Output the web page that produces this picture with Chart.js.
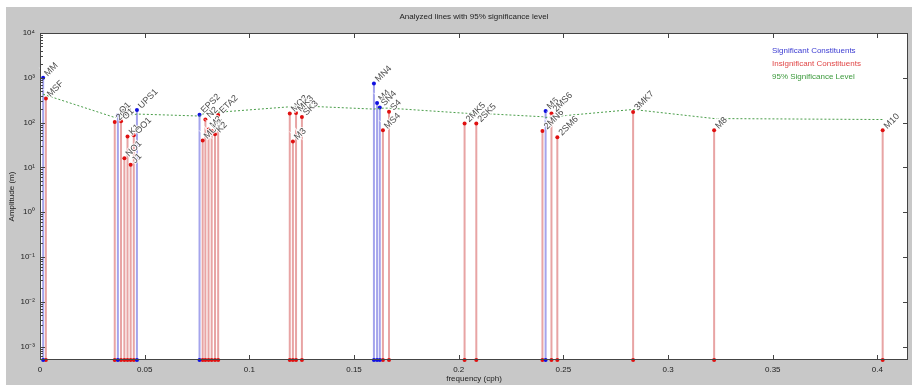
<!DOCTYPE html>
<html>
<head>
<meta charset="utf-8">
<script src="https://cdn.jsdelivr.net/npm/chart.js@4/dist/chart.umd.min.js"></script>
<style>
  html, body { margin: 0; padding: 0; background: #fff; }
  #wrap { width: 912px; height: 385px; }
</style>
</head>
<body>
<div id="wrap"><canvas id="lines-graph" width="912" height="385"></canvas></div>
<script>
// tidal constituents
var constNames = ['MM', 'MSF', '2Q1', 'Q1', 'O1', 'NO1', 'K1', 'J1', 'OO1', 'UPS1',
  'EPS2', 'MU2', 'N2', 'M2', 'L2', 'K2', 'ETA2', 'MO3', 'M3', 'MK3', 'SK3',
  'MN4', 'M4', 'SN4', 'MS4', 'S4', '2MK5', '2SK5', '2MN6', 'M6', '2MS6', '2SM6',
  '3MK7', 'M8', 'M10'];
var constFreqs = [0.0015, 0.0028, 0.0357, 0.0372, 0.0387, 0.0403, 0.0418, 0.0433, 0.0448, 0.0463,
  0.0762, 0.0777, 0.0790, 0.0805, 0.0820, 0.0836, 0.0851, 0.1193, 0.1208, 0.1223, 0.1251,
  0.1595, 0.1610, 0.1623, 0.1638, 0.1667, 0.2028, 0.2084, 0.2400, 0.2415, 0.2443, 0.2471,
  0.2833, 0.3220, 0.4025];
var constAmps = [1000, 345, 103, 146, 107, 16, 49, 11.5, 52, 190,
  150, 40, 117, 70, 65, 55, 148, 160, 38, 163, 133,
  748, 275, 217, 67, 174, 95, 95, 65, 182, 160, 47,
  173, 67, 67];
var constSignificant = [1, 0, 0, 1, 0, 0, 0, 0, 0, 1,
  1, 0, 0, 0, 0, 0, 0, 0, 0, 0, 0,
  1, 1, 1, 0, 0, 0, 0, 0, 1, 0, 0,
  0, 0, 0];
var sigLevel = [430, 410, 130, 135, 140, 150, 155, 150, 150, 155,
  140, 155, 160, 160, 165, 165, 170, 225, 230, 235, 235,
  200, 205, 205, 210, 210, 162, 162, 135, 130, 135, 138,
  196, 123, 117];

var xTicks = [0, 0.05, 0.1, 0.15, 0.2, 0.25, 0.3, 0.35, 0.4];
var yDecades = [-3, -2, -1, 0, 1, 2, 3, 4];
var legendLabels = ['Significant Constituents', 'Insignificant Constituents', '95% Significance Level'];

var yMin = 5e-4;
var yMax = 1e4;
var xMax = 0.4146;
var FONT = '"Liberation Sans", Arial, sans-serif';

function stemData(flag) {
  var pts = [];
  for (var i = 0; i < constFreqs.length; i++) {
    if (constSignificant[i] === flag) {
      pts.push({ x: constFreqs[i], y: yMin });
      pts.push({ x: constFreqs[i], y: constAmps[i] });
      pts.push({ x: constFreqs[i], y: null }); // break between stems
    }
  }
  return pts;
}

function supNumber(n) {
  var map = { '-': '\u207B', '0': '\u2070', '1': '\u00B9', '2': '\u00B2', '3': '\u00B3',
    '4': '\u2074', '5': '\u2075', '6': '\u2076', '7': '\u2077', '8': '\u2078', '9': '\u2079' };
  return String(n).split('').map(function (c) { return map[c]; }).join('');
}

var bgPlugin = {
  id: 'bg',
  beforeDraw: function (chart) {
    var ctx = chart.ctx, a = chart.chartArea;
    ctx.save();
    ctx.fillStyle = '#ffffff';
    ctx.fillRect(0, 0, chart.width, chart.height);
    ctx.fillStyle = '#c8c8c8';
    ctx.fillRect(6, 7, chart.width - 6, chart.height - 7);
    ctx.fillStyle = '#ffffff';
    ctx.fillRect(a.left, a.top, a.right - a.left, a.bottom - a.top);
    ctx.restore();
  }
};

// rotated constituent names on top of each stem
var namePlugin = {
  id: 'names',
  afterDatasetsDraw: function (chart) {
    var ctx = chart.ctx;
    var xs = chart.scales.x, ys = chart.scales.y;
    ctx.save();
    ctx.font = '9px ' + FONT;
    ctx.textBaseline = 'middle';
    ctx.textAlign = 'left';
    for (var i = 0; i < constNames.length; i++) {
      var px = xs.getPixelForValue(constFreqs[i]);
      var py = ys.getPixelForValue(constAmps[i]);
      ctx.save();
      ctx.translate(px + 1.5, py - 1.5);
      ctx.rotate(-Math.PI / 4);
      ctx.lineWidth = 2;
      ctx.strokeStyle = 'rgba(255,255,255,0.85)';
      ctx.strokeText(constNames[i], 2, 0);
      ctx.fillStyle = '#4a4a4a';
      ctx.fillText(constNames[i], 2, 0);
      ctx.restore();
    }
    ctx.restore();
  }
};

// matlab style frame: box, inward ticks, titles, text legend
var framePlugin = {
  id: 'frame',
  afterDraw: function (chart) {
    var ctx = chart.ctx, a = chart.chartArea;
    var xs = chart.scales.x, ys = chart.scales.y;
    ctx.save();
    ctx.strokeStyle = '#444';
    ctx.lineWidth = 1;
    ctx.strokeRect(a.left + 0.5, a.top + 0.5, a.right - a.left - 1, a.bottom - a.top - 1);

    ctx.beginPath();
    xTicks.forEach(function (v) {
      var px = Math.round(xs.getPixelForValue(v)) + 0.5;
      ctx.moveTo(px, a.bottom); ctx.lineTo(px, a.bottom - 5);
      ctx.moveTo(px, a.top); ctx.lineTo(px, a.top + 5);
    });
    yDecades.forEach(function (e) {
      var py = Math.round(ys.getPixelForValue(Math.pow(10, e))) + 0.5;
      ctx.moveTo(a.left, py); ctx.lineTo(a.left + 5, py);
      ctx.moveTo(a.right, py); ctx.lineTo(a.right - 5, py);
    });
    for (var e = -4; e < 4; e++) {
      for (var k = 2; k <= 9; k++) {
        var v = k * Math.pow(10, e);
        if (v <= yMin || v >= yMax) continue;
        var py = Math.round(ys.getPixelForValue(v)) + 0.5;
        ctx.moveTo(a.left, py); ctx.lineTo(a.left + 3, py);
      }
    }
    ctx.stroke();

    ctx.fillStyle = '#222';
    ctx.font = '8px ' + FONT;
    ctx.textAlign = 'center';
    ctx.textBaseline = 'middle';
    ctx.fillText('Analyzed lines with 95% significance level', (a.left + a.right) / 2, 17);
    ctx.fillText('frequency (cph)', (a.left + a.right) / 2, 379);
    ctx.save();
    ctx.translate(12, (a.top + a.bottom) / 2);
    ctx.rotate(-Math.PI / 2);
    ctx.fillText('Amplitude (m)', 0, 0);
    ctx.restore();

    var legendColors = ['#3c3cd2', '#e04646', '#3c9a3c'];
    ctx.textAlign = 'left';
    ctx.font = '8px ' + FONT;
    legendLabels.forEach(function (t, i) {
      ctx.fillStyle = legendColors[i];
      ctx.fillText(t, 772, 51 + i * 13);
    });
    ctx.restore();
  }
};

var sigPoints = constFreqs.map(function (f, i) { return { x: f, y: sigLevel[i] }; });

new Chart(document.getElementById('lines-graph').getContext('2d'), {
  type: 'scatter',
  data: {
    datasets: [
      {
        label: legendLabels[1],
        data: stemData(0),
        showLine: true,
        borderColor: '#e8a4a4',
        borderWidth: 2,
        pointRadius: 2,
        pointBorderWidth: 0,
        pointBackgroundColor: '#e01010',
        clip: false,
        order: 3
      },
      {
        label: legendLabels[0],
        data: stemData(1),
        showLine: true,
        borderColor: '#a4a4ec',
        borderWidth: 2,
        pointRadius: 2,
        pointBorderWidth: 0,
        pointBackgroundColor: '#1010e0',
        clip: false,
        order: 2
      },
      {
        label: legendLabels[2],
        data: sigPoints,
        showLine: true,
        borderColor: '#4a9e4a',
        borderWidth: 1,
        borderDash: [2, 2],
        pointRadius: 0,
        order: 1
      }
    ]
  },
  options: {
    responsive: false,
    animation: false,
    layout: { padding: { top: 33, right: 4, left: 0, bottom: 0 } },
    plugins: {
      legend: { display: false },
      title: { display: false },
      tooltip: { enabled: false }
    },
    scales: {
      x: {
        type: 'linear',
        min: 0,
        max: xMax,
        afterBuildTicks: function (s) { s.ticks = xTicks.map(function (v) { return { value: v }; }); },
        afterFit: function (s) { s.height = 25; },
        grid: { display: false, drawTicks: false },
        border: { display: false },
        ticks: {
          autoSkip: false,
          maxRotation: 0,
          padding: 5,
          color: '#222',
          font: { family: FONT, size: 8 },
          callback: function (v) { return String(Math.round(v * 100) / 100); }
        }
      },
      y: {
        type: 'logarithmic',
        min: yMin,
        max: yMax,
        afterBuildTicks: function (s) { s.ticks = yDecades.map(function (e) { return { value: Math.pow(10, e) }; }); },
        afterFit: function (s) { s.width = 40; },
        grid: { display: false, drawTicks: false },
        border: { display: false },
        ticks: {
          autoSkip: false,
          padding: 5,
          color: '#222',
          font: { family: FONT, size: 8 },
          callback: function (v) { return '10' + supNumber(Math.round(Math.log10(v))); }
        }
      }
    }
  },
  plugins: [bgPlugin, namePlugin, framePlugin]
});
</script>
</body>
</html>
